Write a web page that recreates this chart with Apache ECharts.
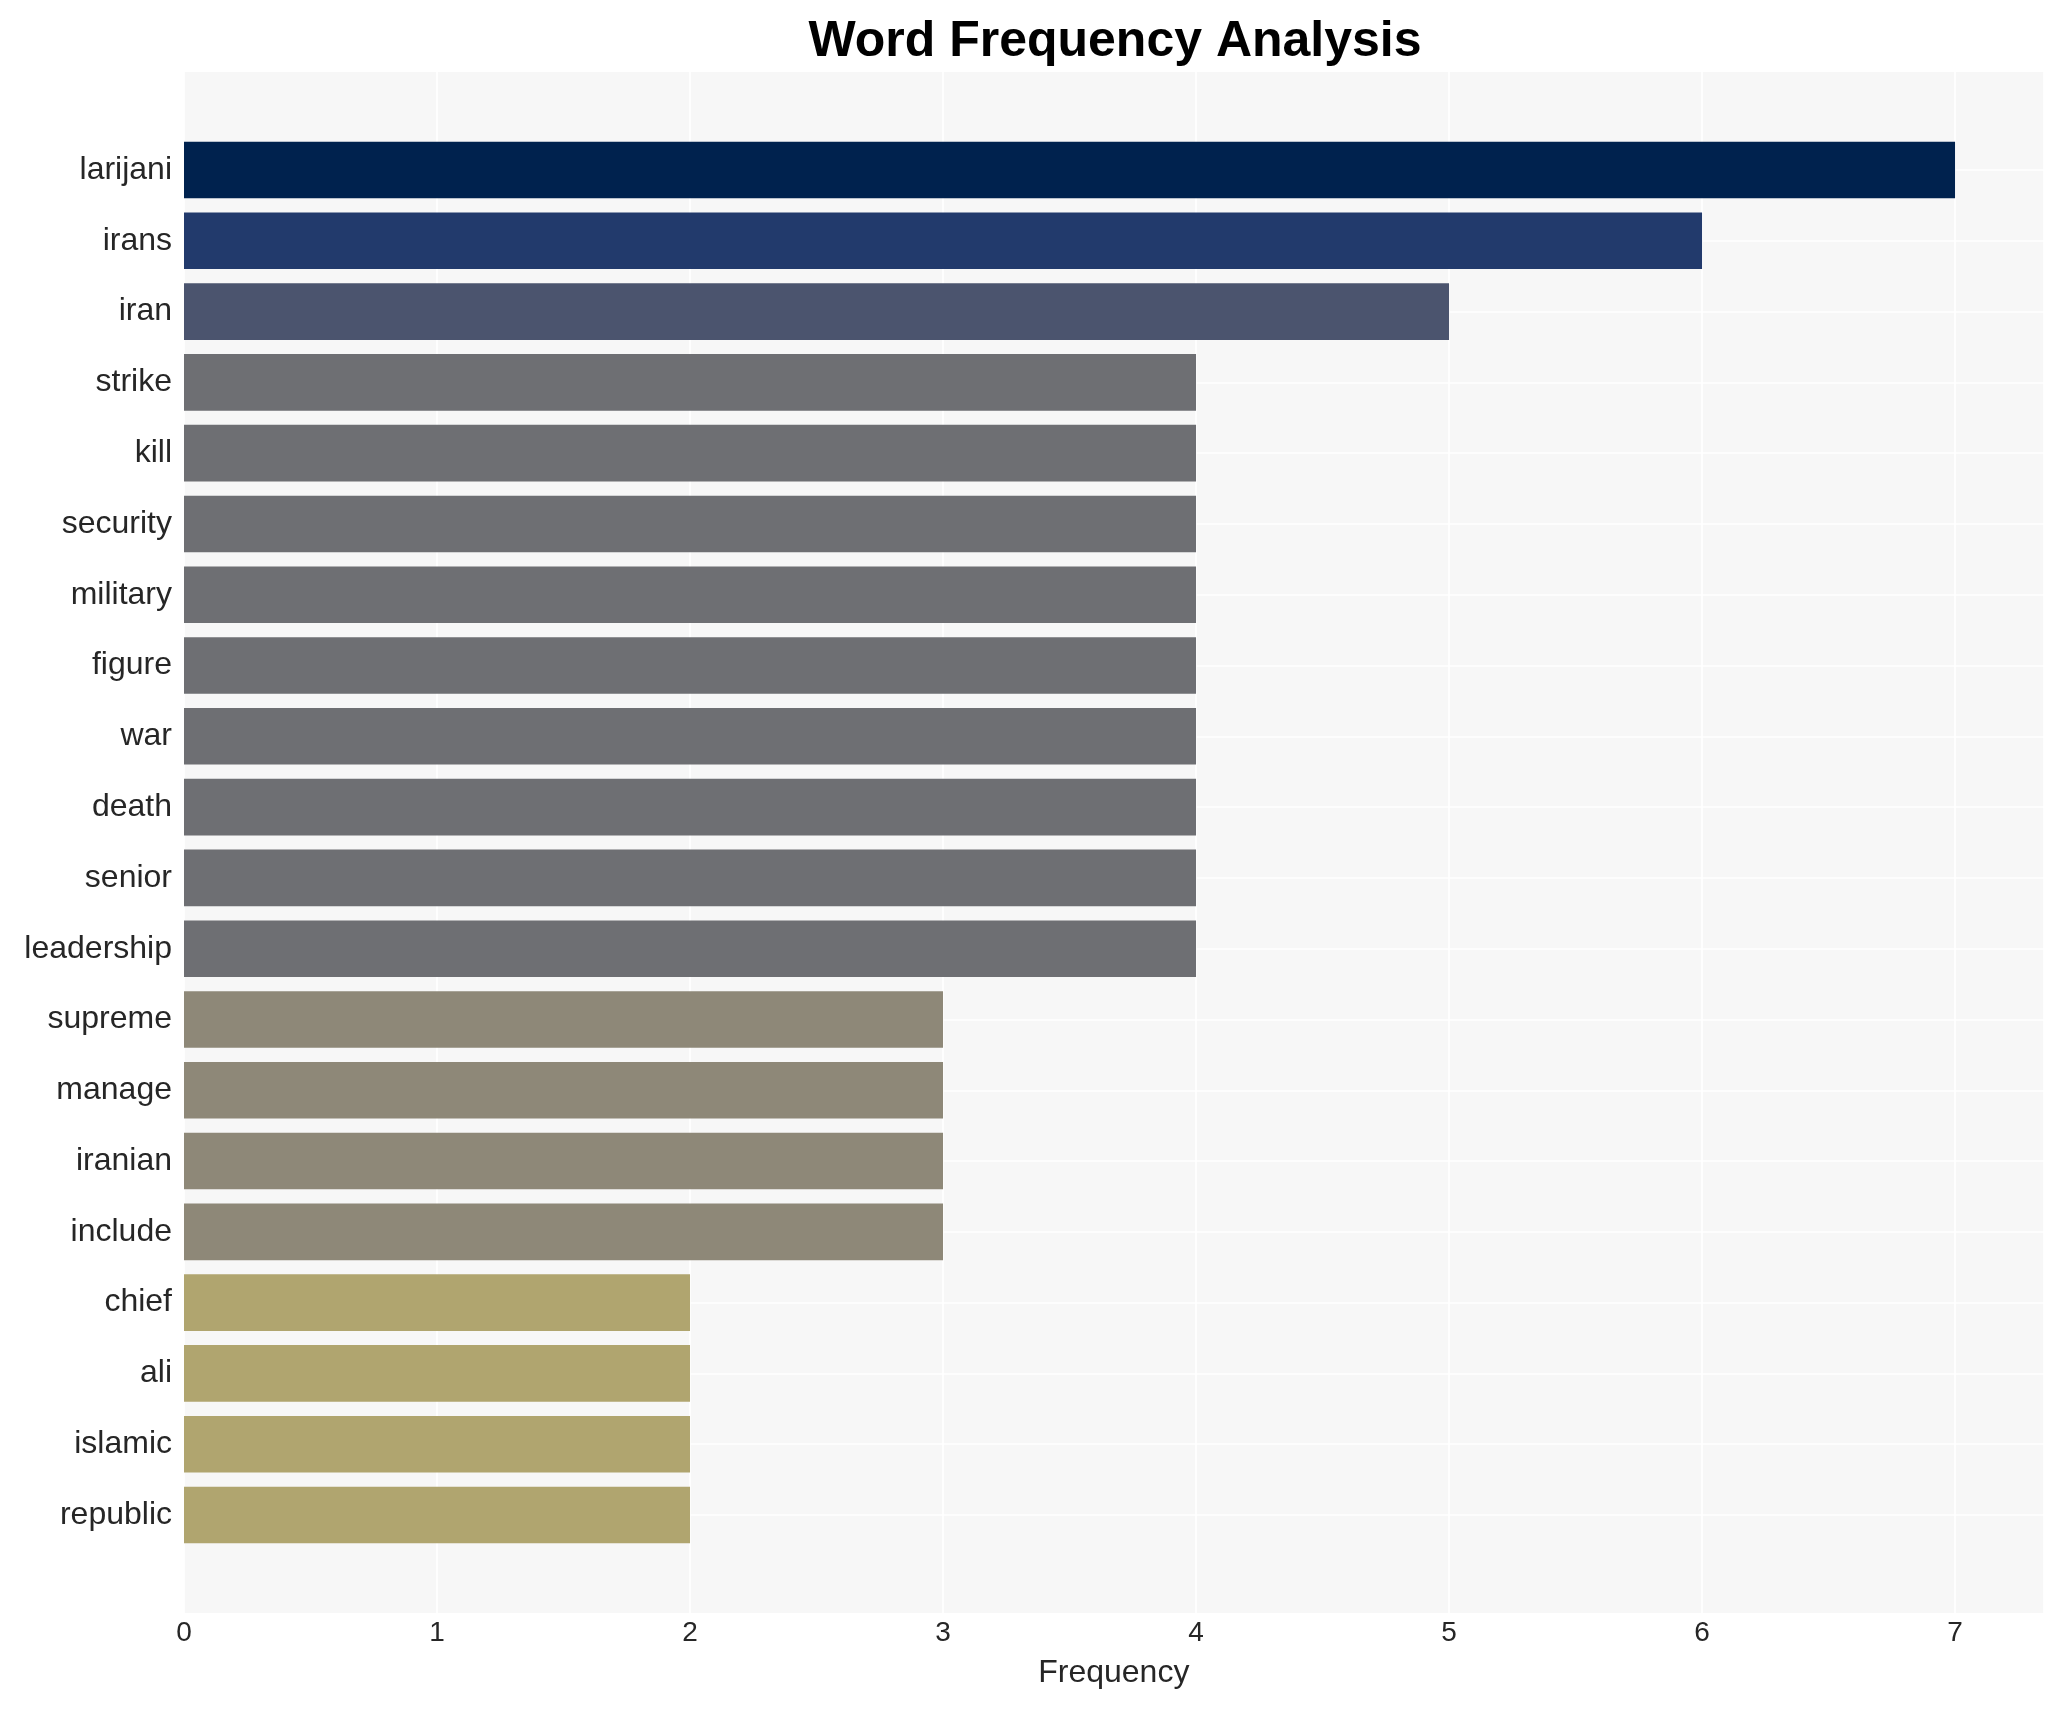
<!DOCTYPE html>
<html>
<head>
<meta charset="utf-8">
<script src="https://cdn.jsdelivr.net/npm/echarts@6/dist/echarts.min.js"></script>
<style>
  html, body { margin: 0; padding: 0; background: #ffffff; }
  #chart { width: 2063px; height: 1710px; }
</style>
</head>
<body>
<div id="chart"></div>
<script>
// ---- data ----
const words = ['larijani', 'irans', 'iran', 'strike', 'kill', 'security', 'military', 'figure', 'war', 'death', 'senior', 'leadership', 'supreme', 'manage', 'iranian', 'include', 'chief', 'ali', 'islamic', 'republic'];
const counts = [7, 6, 5, 4, 4, 4, 4, 4, 4, 4, 4, 4, 3, 3, 3, 3, 2, 2, 2, 2];
const xTicks = [0, 1, 2, 3, 4, 5, 6, 7];
const titleText = 'Word Frequency Analysis';
const xAxisTitle = 'Frequency';

// ---- style ----
const colorByCount = { 7: '#00224e', 6: '#223a6c', 5: '#4b546e', 4: '#6e6f73', 3: '#8e8878', 2: '#b0a56f' };
const FONT = '"Liberation Sans", Arial, Helvetica, sans-serif';
const TEXT = '#262626';
const xMax = 7.35;

const chart = echarts.init(document.getElementById('chart'), null, { renderer: 'canvas' });

const option = {
  backgroundColor: '#ffffff',
  animation: false,
  title: {
    text: titleText,
    left: 1110,
    textAlign: 'center',
    top: 12,
    textStyle: { fontFamily: FONT, fontSize: 50, fontWeight: 'bold', color: '#000000' }
  },
  grid: [
    { left: 184, right: 19.4, top: 72, bottom: 97, show: true, backgroundColor: '#f7f7f7', borderWidth: 0, containLabel: false },
    { left: 184, right: 19.4, top: 170, bottom: 195, containLabel: false }
  ],
  xAxis: [
    {
      gridIndex: 0, type: 'value', min: 0, max: xMax, interval: 1, z: 1,
      axisLine: { show: false }, axisTick: { show: false },
      splitLine: { show: true, lineStyle: { color: '#ffffff', width: 1.6 } },
      axisLabel: {
        fontFamily: FONT, fontSize: 28, color: TEXT, margin: 6,
        formatter: v => (xTicks.indexOf(v) >= 0 ? String(v) : '')
      },
      name: xAxisTitle, nameLocation: 'middle', nameGap: 44,
      nameTextStyle: { fontFamily: FONT, fontSize: 32, color: TEXT }
    },
    { gridIndex: 1, type: 'value', min: 0, max: xMax, show: false }
  ],
  yAxis: [
    { gridIndex: 0, type: 'value', min: 0, max: 1, show: false },
    {
      gridIndex: 1, type: 'category', data: words, inverse: true, boundaryGap: false, z: 1,
      axisLine: { show: false }, axisTick: { show: false },
      splitLine: { show: true, lineStyle: { color: '#ffffff', width: 1.6 } },
      axisLabel: { fontFamily: FONT, fontSize: 32, color: TEXT, margin: 12 }
    }
  ],
  series: [
    {
      type: 'bar', xAxisIndex: 1, yAxisIndex: 1, barWidth: 56.6, clip: false,
      data: counts.map(c => ({ value: c, itemStyle: { color: colorByCount[c] } }))
    }
  ]
};

chart.setOption(option);
</script>
</body>
</html>
